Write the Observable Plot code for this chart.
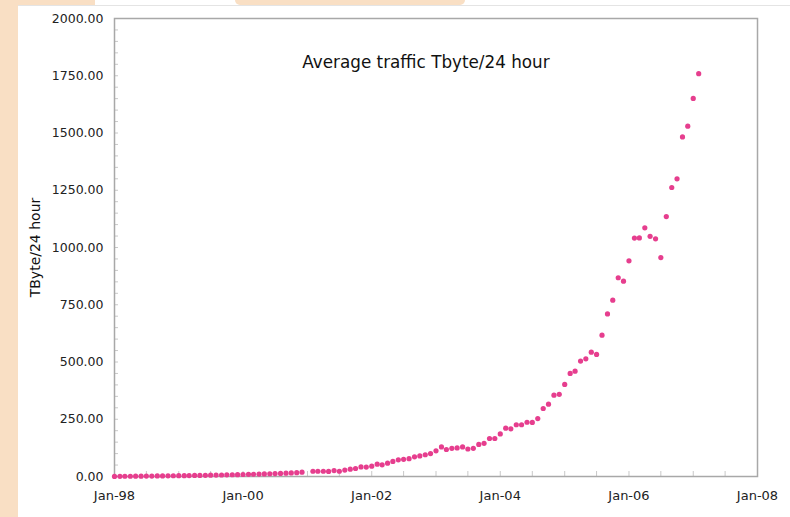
<!DOCTYPE html>
<html>
<head>
<meta charset="utf-8">
<script src="https://cdn.jsdelivr.net/npm/d3@7"></script>
<script src="https://cdn.jsdelivr.net/npm/@observablehq/plot@0.6"></script>
<style>
  html, body { margin: 0; padding: 0; background: #ffffff; }
  #wrap { position: relative; width: 790px; height: 517px; overflow: hidden; background: #ffffff; }
  .peach { position: absolute; background: #f9dfc4; }
  #line { position: absolute; left: 18px; top: 5px; width: 772px; height: 1px; background: #e4e4e4; }
  #chart { position: absolute; left: 0; top: 0; }
</style>
</head>
<body>
<div id="wrap">
  <div class="peach" style="left:0;top:0;width:18px;height:517px;"></div>
  <div class="peach" style="left:0;top:0;width:95px;height:5px;"></div>
  <div class="peach" style="left:235px;top:0;width:230px;height:5px;border-radius:0 0 40px 40px;"></div>
  <div id="line"></div>
  <div id="chart"></div>
</div>
<script>
const months = [
  "1998-01","1998-02","1998-03","1998-04","1998-05","1998-06","1998-07","1998-08","1998-09","1998-10","1998-11","1998-12",
  "1999-01","1999-02","1999-03","1999-04","1999-05","1999-06","1999-07","1999-08","1999-09","1999-10","1999-11","1999-12",
  "2000-01","2000-02","2000-03","2000-04","2000-05","2000-06","2000-07","2000-08","2000-09","2000-10","2000-11","2000-12",
  "2001-02","2001-03","2001-04","2001-05","2001-06","2001-07","2001-08","2001-09","2001-10","2001-11","2001-12",
  "2002-01","2002-02","2002-03","2002-04","2002-05","2002-06","2002-07","2002-08","2002-09","2002-10","2002-11","2002-12",
  "2003-01","2003-02","2003-03","2003-04","2003-05","2003-06","2003-07","2003-08","2003-09","2003-10","2003-11","2003-12",
  "2004-01","2004-02","2004-03","2004-04","2004-05","2004-06","2004-07","2004-08","2004-09","2004-10","2004-11","2004-12",
  "2005-01","2005-02","2005-03","2005-04","2005-05","2005-06","2005-07","2005-08","2005-09","2005-10","2005-11","2005-12",
  "2006-01","2006-02","2006-03","2006-04","2006-05","2006-06","2006-07","2006-08","2006-09","2006-10","2006-11","2006-12",
  "2007-01","2007-02"
];
const traffic = [
  0.5, 0.8, 1.0, 1.2, 1.4, 1.6, 1.8, 2.0, 2.3, 2.6, 2.9, 3.2,
  3.5, 3.8, 4.1, 4.5, 4.9, 5.3, 5.7, 6.1, 6.6, 7.1, 7.6, 8.1,
  8.7, 9.3, 9.9, 10.5, 11.2, 11.9, 12.6, 13.5, 14.5, 15.5, 16.5, 19,
  23, 23, 23, 22, 26, 23, 28, 32, 35, 42, 41,
  45, 54, 51, 58, 66, 73, 75, 78, 86, 90, 95, 100,
  112, 129, 118, 123, 125, 129, 120, 123, 140, 145, 166, 166,
  186, 211, 208, 226, 226, 237, 236, 253, 297, 316, 355, 359,
  402, 450, 460, 504, 514, 543, 533, 617, 710, 770, 868, 853,
  942, 1041, 1042, 1086, 1049, 1038, 956, 1135, 1262, 1300, 1483, 1530,
  1651, 1759
];
const xTickYears = ["1998-01","2000-01","2002-01","2004-01","2006-01","2008-01"];
const xMinorTicks = d3.utcMonth.every(6).range(new Date(Date.UTC(1998,0,1)), new Date(Date.UTC(2008,0,2)));
const yTicks = [0, 250, 500, 750, 1000, 1250, 1500, 1750, 2000];
const yMinorTicks = d3.range(0, 2001, 50);
const title = "Average traffic Tbyte/24 hour";
const yLabel = "TByte/24 hour";

const parse = d3.utcParse("%Y-%m");
const data = months.map((m, i) => ({date: parse(m), value: traffic[i]}));
const fmtX = d3.utcFormat("%b-%y");
const font = "DejaVu Sans, Verdana, sans-serif";

const chart = Plot.plot({
  width: 790,
  height: 517,
  marginLeft: 114,
  marginRight: 33,
  marginTop: 18,
  marginBottom: 41,
  style: {fontFamily: font, fontSize: "12.5px", color: "#222", background: "transparent"},
  x: {type: "utc", domain: [parse("1998-01"), parse("2008-01")]},
  y: {domain: [0, 2000]},
  marks: [
    Plot.ruleX(xMinorTicks, {x: d => d, insetTop: 453, stroke: "#c8c8c8", strokeWidth: 1}),
    Plot.ruleY(yMinorTicks, {y: d => d, insetRight: 639, stroke: "#c8c8c8", strokeWidth: 1}),
    Plot.frame({stroke: "#a8a8a8", strokeWidth: 1.5}),
    Plot.axisX(xTickYears.map(parse), {tickSize: 0, tickPadding: 14, tickFormat: fmtX, fill: "#222", fontSize: 13, label: null}),
    Plot.axisY(yTicks, {tickSize: 0, tickPadding: 11, tickFormat: d3.format(".2f"), fill: "#222", fontSize: 12.5, label: null}),
    Plot.dot(data, {x: "date", y: "value", r: 2.6, fill: "#e63e8e", stroke: "none"}),
    Plot.text([title], {frameAnchor: "top", dy: 38, dx: -10, fontSize: 16.8, fill: "#111", fontFamily: font}),
    Plot.text([yLabel], {frameAnchor: "left", dx: -79, rotate: -90, textAnchor: "middle", fontSize: 14, fill: "#111", fontFamily: font})
  ]
});
document.getElementById("chart").appendChild(chart);
</script>
</body>
</html>
